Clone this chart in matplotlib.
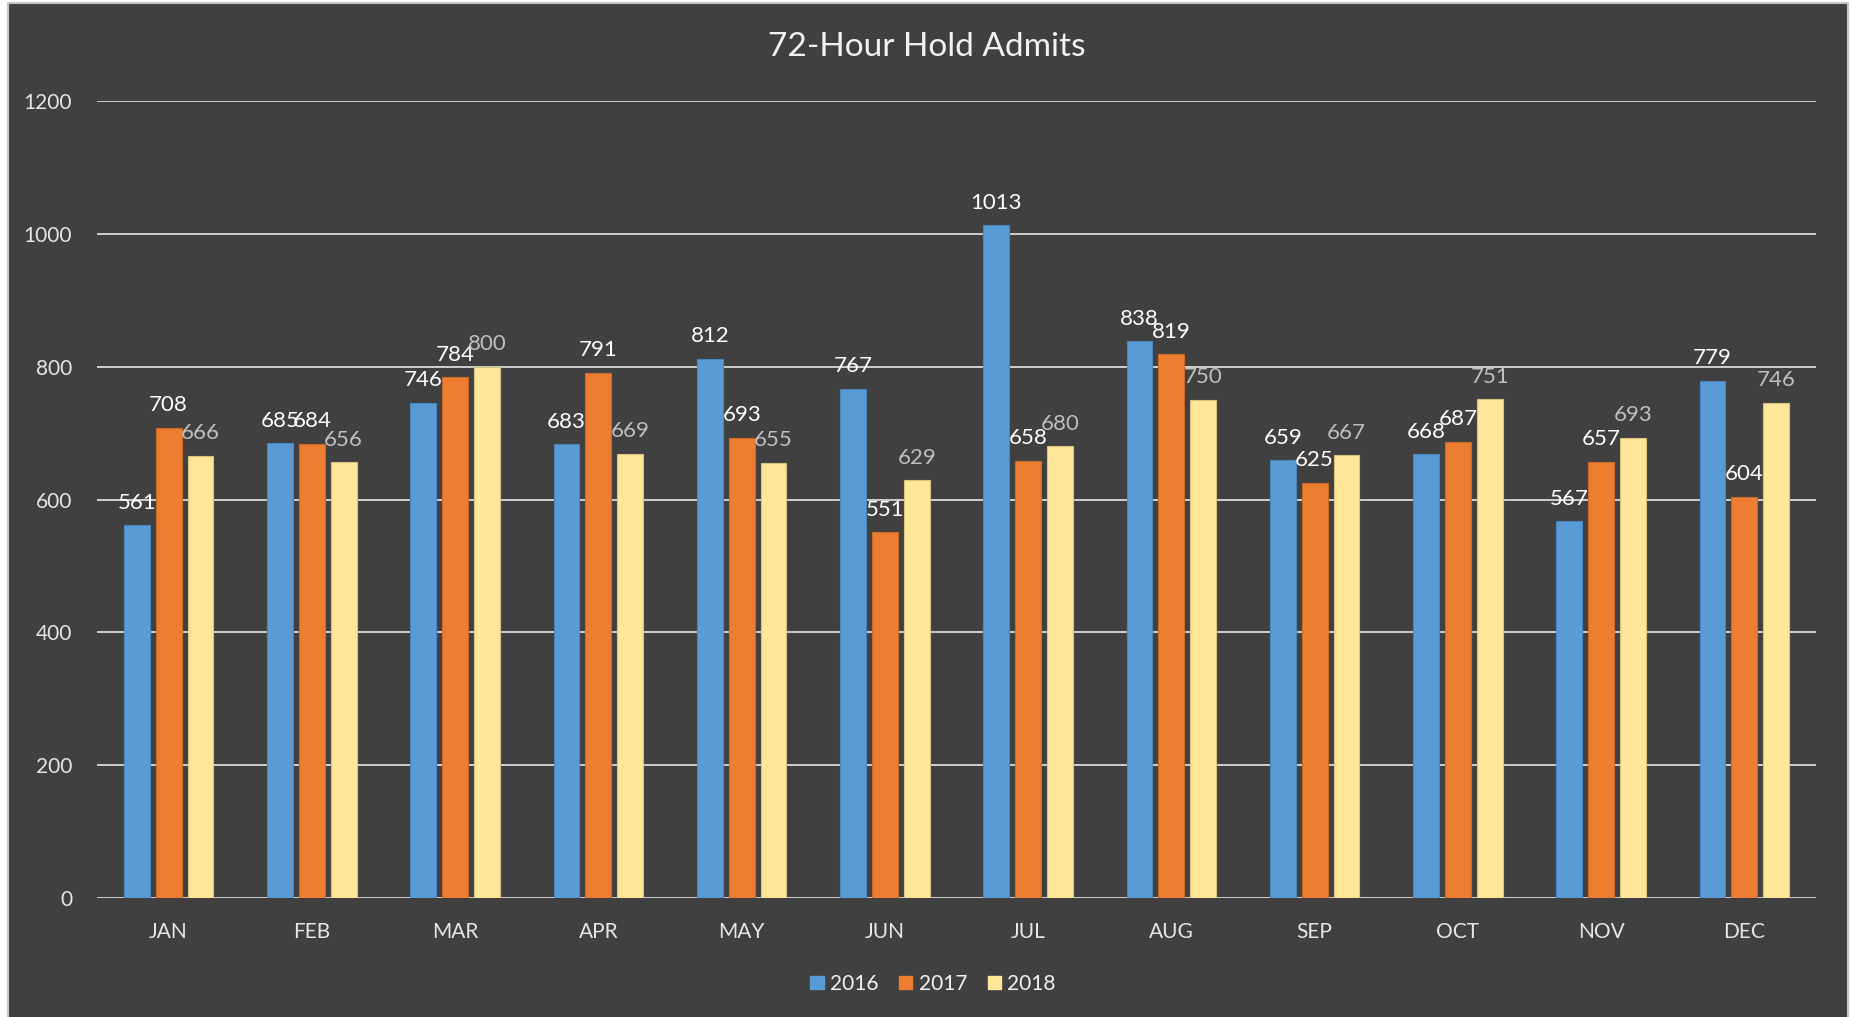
import matplotlib
matplotlib.use("Agg")
import matplotlib.pyplot as plt
from matplotlib.patches import Rectangle, Patch
import numpy as np

months = ["JAN", "FEB", "MAR", "APR", "MAY", "JUN", "JUL", "AUG", "SEP", "OCT", "NOV", "DEC"]
years = ["2016", "2017", "2018"]
v2016 = [561, 685, 746, 683, 812, 767, 1013, 838, 659, 668, 567, 779]
v2017 = [708, 684, 784, 791, 693, 551, 658, 819, 625, 687, 657, 604]
v2018 = [666, 656, 800, 669, 655, 629, 680, 750, 667, 751, 693, 746]
series = [v2016, v2017, v2018]
colors = ["#5B9BD5", "#ED7D31", "#FFE699"]
edge_colors = ["#4A86BE", "#C96A28", "#D9C27F"]
label_colors = ["#FFFFFF", "#FFFFFF", "#BFBFBF"]

plt.rcParams['font.family'] = ['Lato', 'DejaVu Sans']

W, H = 1851, 1017
fig = plt.figure(figsize=(W / 100, H / 100), dpi=100, facecolor="white")
bg = Rectangle((8 / W, -0.01), (1848 - 8) / W, 1 - 3 / H + 0.01, transform=fig.transFigure,
               facecolor="#404040", edgecolor="#C8C8C8", linewidth=1.5, zorder=-10)
fig.patches.append(bg)

ax = fig.add_axes([97 / W, 1 - 898 / H, (1816 - 97) / W, (898 - 101) / H])
ax.set_facecolor("#404040")

x = np.arange(len(months))
bw = 0.18
step = 0.222
for i, (vals, c, ec, lc, yr) in enumerate(zip(series, colors, edge_colors, label_colors, years)):
    bars = ax.bar(x + (i - 1) * step, vals, width=bw, color=c, edgecolor=ec, linewidth=0.8,
                  label=yr, zorder=3)
    ax.bar_label(bars, labels=[str(v) for v in vals], padding=9, color=lc, fontsize=16,
                 zorder=4)

ax.set_xlim(-0.5, 11.5)
ax.set_ylim(0, 1200)
ax.set_yticks(range(0, 1201, 200))
ax.set_xticks(x)
ax.set_xticklabels(months)
ax.tick_params(axis="both", length=0, colors="#E6E6E6", labelsize=15)
ax.tick_params(axis="y", pad=18)
ax.tick_params(axis="x", pad=17)
ax.yaxis.grid(True, color="#D9D9D9", linewidth=1.3, zorder=0)
ax.set_axisbelow(True)
for s in ax.spines.values():
    s.set_visible(False)

fig.text(927 / W, 1 - 47 / H, "72-Hour Hold Admits", ha="center", va="center",
         color="#F2F2F2", fontsize=24)

handles = [Patch(facecolor=c, edgecolor=c) for c in colors]
fig.legend(handles, years, loc="center", bbox_to_anchor=(933 / W, 1 - 984 / H), ncol=3,
           frameon=False, fontsize=15, labelcolor="#F2F2F2", handlelength=0.63,
           handleheight=0.63, handletextpad=0.3, columnspacing=1.0)

fig.savefig("out.png", dpi=100, facecolor=fig.get_facecolor())
